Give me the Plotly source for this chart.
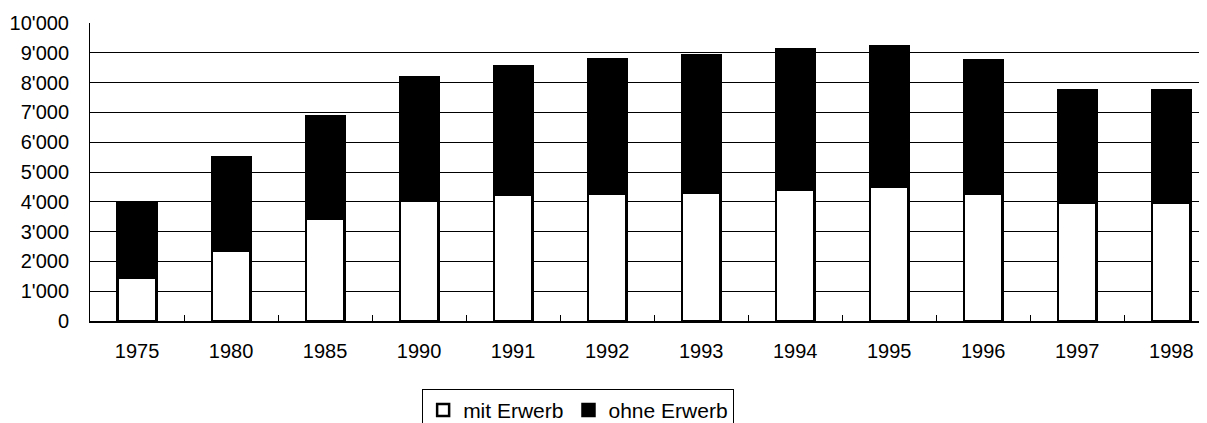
import plotly.graph_objects as go

years = ["1975", "1980", "1985", "1990", "1991", "1992", "1993", "1994", "1995", "1996", "1997", "1998"]
mit_erwerb = [1460, 2370, 3440, 4020, 4220, 4280, 4300, 4410, 4520, 4280, 3970, 3970]
ohne_erwerb = [2540, 3130, 3430, 4170, 4320, 4520, 4620, 4720, 4710, 4470, 3770, 3760]
y_ticks = [0, 1000, 2000, 3000, 4000, 5000, 6000, 7000, 8000, 9000, 10000]

FONT = "Liberation Sans, Arial, sans-serif"

fig = go.Figure()
fig.add_trace(go.Bar(
    x=years, y=mit_erwerb, name="mit Erwerb",
    marker=dict(color="white", line=dict(color="black", width=2.5)),
    width=0.41,
))
fig.add_trace(go.Bar(
    x=years, y=ohne_erwerb, name="ohne Erwerb",
    marker=dict(color="black", line=dict(color="black", width=2.5)),
    width=0.41,
))

# page body has an 8px margin, so the figure is sized/offset accordingly
fig.update_layout(
    width=1199, height=415,
    margin=dict(l=82, r=0, t=15, b=102, autoexpand=False),
    barmode="stack",
    paper_bgcolor="white", plot_bgcolor="white",
    font=dict(family=FONT, size=20, color="black"),
    separators=".'",
    showlegend=True,
    legend=dict(
        orientation="h", traceorder="normal",
        x=0.437, xanchor="center", y=-0.228, yanchor="top",
        bordercolor="black", borderwidth=1,
        font=dict(family=FONT, size=21, color="black"),
        itemwidth=30,
    ),
)
fig.update_xaxes(
    type="category",
    range=[-0.5, 11.38],
    automargin=False,
    showline=True, linecolor="black", linewidth=1.5,
    ticks="inside", ticklen=6, tickcolor="black", tickwidth=1,
    tickson="boundaries",
    showgrid=False,
    ticklabelstandoff=11,
    tickfont=dict(family=FONT, size=20, color="black"),
)
fig.update_yaxes(
    range=[0, 10000],
    automargin=False,
    tickvals=y_ticks, tickformat=",d",
    showline=True, linecolor="black", linewidth=1,
    showgrid=True, gridcolor="black", gridwidth=1,
    zeroline=False,
    ticks="",
    ticklabelstandoff=16,
    tickfont=dict(family=FONT, size=20, color="black"),
)

fig.write_html("out.html")
